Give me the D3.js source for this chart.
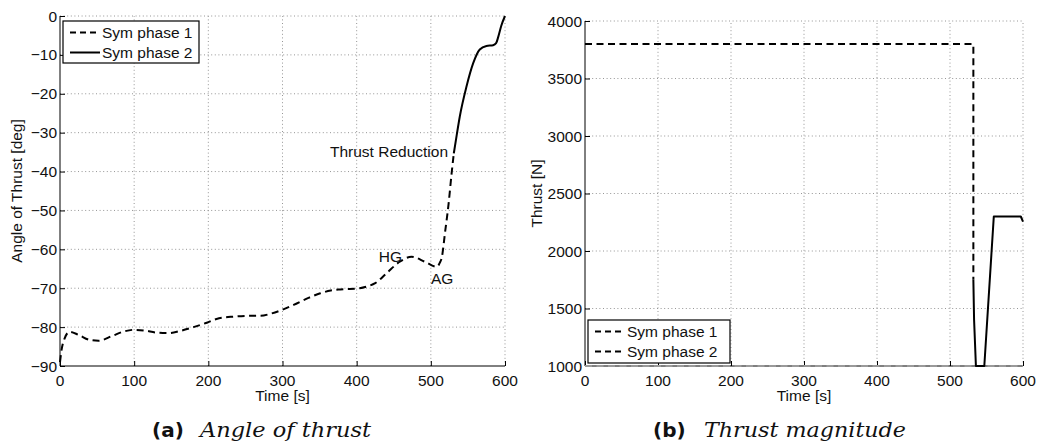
<!DOCTYPE html>
<html>
<head>
<meta charset="utf-8">
<script src="https://cdn.jsdelivr.net/npm/d3@7"></script>
<style>
  html, body { margin: 0; padding: 0; background: #fff; }
  svg { display: block; }
  text { font-family: "Liberation Sans", Arial, Helvetica, sans-serif; fill: #111; }
</style>
</head>
<body>
<svg id="fig" width="1042" height="448"></svg>
<script>
// ---- data ----------------------------------------------------------------
const timeTicks = [0, 100, 200, 300, 400, 500, 600];
const angleTicks = [-90, -80, -70, -60, -50, -40, -30, -20, -10, 0];
const thrustTicks = [1000, 1500, 2000, 2500, 3000, 3500, 4000];

// angle of thrust [deg] vs time [s]
const anglePhase1 = [
  [0, -89], [2, -86], [6, -83], [13, -81.2], [25, -82], [40, -83.3], [52, -83.5],
  [70, -82.3], [85, -81.2], [99, -80.7], [115, -80.9], [130, -81.4], [148, -81.5],
  [162, -81], [180, -80], [199, -78.8], [211, -77.9], [234, -77.3], [255, -77.1],
  [270, -77.1], [285, -76.5], [299, -75.6], [315, -74.3], [335, -72.5], [351, -71.3],
  [365, -70.6], [378, -70.3], [404, -70], [415, -69.5], [425, -68.7], [440, -66.2],
  [458, -63.2], [474, -61.9], [492, -63.2], [508, -64.5], [512, -63.5], [515, -61.9],
  [519, -55.9], [524, -48.2], [528, -40.5], [531, -35.3]
];
const anglePhase2 = [
  [531, -35.3], [535, -30.5], [539, -25.9], [548, -18.2], [557, -12.2], [566, -8.6],
  [575, -7.7], [584, -7.5], [588, -7], [591, -5.3], [595, -2.5], [600, 0]
];

// thrust magnitude [N] vs time [s]
const thrustPhase1 = [[0, 3800], [532, 3800], [532, 1750]];
const thrustPhase2 = [
  [532, 1750], [533, 1400], [535.5, 1000], [547, 1000], [560, 2300], [597, 2300], [600, 2255]
];
const thrustFloor = [[0, 1000], [600, 1000]];

const seriesNames = ["Sym phase 1", "Sym phase 2"];

// ---- drawing helpers -----------------------------------------------------
const svg = d3.select("#fig");
const FS = 15.5;

function panel(cfg) {
  const g = svg.append("g");
  const x = d3.scaleLinear().domain([0, 600]).range(cfg.xr);
  const y = d3.scaleLinear().domain(cfg.yd).range(cfg.yr);

  // dotted grid
  const grid = g.append("g").attr("stroke", "#8a8a8a").attr("stroke-width", 0.9)
    .attr("stroke-dasharray", "1,2.6");
  grid.selectAll(".gx").data(timeTicks.filter(t => t > 0)).join("line")
    .attr("x1", d => x(d)).attr("x2", d => x(d))
    .attr("y1", cfg.yr[0]).attr("y2", cfg.yr[1]);
  grid.selectAll(".gy").data(cfg.yticks.filter(t => t > cfg.yd[0])).join("line")
    .attr("y1", d => y(d)).attr("y2", d => y(d))
    .attr("x1", cfg.xr[0]).attr("x2", cfg.xr[1]);

  // axes (ticks pointing inward)
  const ax = g.append("g").attr("transform", `translate(0,${cfg.yr[0]})`)
    .call(d3.axisTop(x).tickValues(timeTicks).tickSize(5).tickFormat(""));
  ax.select(".domain").attr("d", `M${cfg.xr[0]},0H${cfg.xr[1]}`).attr("stroke", "#000");
  ax.selectAll(".tick line").attr("stroke", "#000");
  g.selectAll(".xl").data(timeTicks).join("text")
    .attr("x", d => x(d)).attr("y", cfg.yr[0] + 20)
    .attr("text-anchor", "middle").attr("font-size", FS).text(d => d);

  const ay = g.append("g").attr("transform", `translate(${cfg.xr[0]},0)`)
    .call(d3.axisRight(y).tickValues(cfg.yticks).tickSize(5).tickFormat(""));
  ay.select(".domain").attr("d", `M0,${cfg.yr[0]}V${cfg.yr[1]}`).attr("stroke", "#000");
  ay.selectAll(".tick line").attr("stroke", "#000");
  g.selectAll(".yl").data(cfg.yticks).join("text")
    .attr("x", cfg.xr[0] - 3).attr("y", d => y(d) + 5.5)
    .attr("text-anchor", "end").attr("font-size", FS)
    .text(d => d < 0 ? "\u2212" + Math.abs(d) : d);

  // axis titles
  g.append("text").attr("x", (cfg.xr[0] + cfg.xr[1]) / 2).attr("y", 401)
    .attr("text-anchor", "middle").attr("font-size", FS).text("Time [s]");
  g.append("text")
    .attr("transform", `translate(${cfg.ytx},${(cfg.yr[0] + cfg.yr[1]) / 2}) rotate(-90)`)
    .attr("text-anchor", "middle").attr("font-size", FS).text(cfg.ytitle);

  return { g, x, y };
}

function drawLine(p, data, dashed, curve, color, width) {
  const line = d3.line().x(d => p.x(d[0])).y(d => p.y(d[1])).curve(curve || d3.curveLinear);
  p.g.append("path").datum(data).attr("d", line)
    .attr("fill", "none").attr("stroke", color || "#000")
    .attr("stroke-width", width || 2)
    .attr("stroke-dasharray", dashed ? "7,4.5" : null)
    .attr("stroke-linejoin", "round");
}

function legend(p, box, dashes) {
  const lg = p.g.append("g");
  lg.append("rect").attr("x", box[0]).attr("y", box[1])
    .attr("width", box[2]).attr("height", box[3])
    .attr("fill", "#fff").attr("stroke", "#000").attr("stroke-width", 1.2);
  seriesNames.forEach((name, i) => {
    const cy = box[1] + 11.5 + i * 20;
    lg.append("line").attr("x1", box[0] + 7).attr("x2", box[0] + 37)
      .attr("y1", cy).attr("y2", cy).attr("stroke", "#000").attr("stroke-width", 2)
      .attr("stroke-dasharray", dashes[i] ? "6,4" : null);
    lg.append("text").attr("x", box[0] + 39).attr("y", cy + 5.5)
      .attr("font-size", FS).text(name);
  });
}

// ---- (a) angle of thrust -------------------------------------------------
const pa = panel({
  xr: [60, 505], yd: [-90, 0], yr: [366, 16], yticks: angleTicks,
  ytitle: "Angle of Thrust [deg]", ytx: 22
});
drawLine(pa, anglePhase1, true, d3.curveMonotoneX);
drawLine(pa, anglePhase2, false, d3.curveMonotoneX);
legend(pa, [63, 21, 136, 42], [true, false]);

pa.g.append("text").attr("x", 448).attr("y", 157).attr("text-anchor", "end")
  .attr("font-size", FS).text("Thrust Reduction");
pa.g.append("text").attr("x", 402).attr("y", 261.5).attr("text-anchor", "end")
  .attr("font-size", FS).text("HG");
pa.g.append("text").attr("x", 431).attr("y", 284).attr("text-anchor", "start")
  .attr("font-size", FS).text("AG");

// ---- (b) thrust magnitude ------------------------------------------------
const pb = panel({
  xr: [585, 1023], yd: [1000, 4000], yr: [366, 21], yticks: thrustTicks,
  ytitle: "Thrust [N]", ytx: 542
});
drawLine(pb, thrustFloor, true, null, "#9a9a9a", 2);
drawLine(pb, thrustPhase1, true);
drawLine(pb, thrustPhase2, false);
legend(pb, [588, 320, 142, 43], [true, true]);

// ---- captions ------------------------------------------------------------
function caption(xl, xt, tw, label, title) {
  svg.append("text").attr("x", xl).attr("y", 437)
    .style("font-family", "'DejaVu Sans', sans-serif").style("font-weight", "bold")
    .attr("font-size", 20).text(label);
  svg.append("text").attr("x", xt).attr("y", 437)
    .style("font-family", "'DejaVu Serif', 'Liberation Serif', serif").style("font-style", "italic")
    .attr("font-size", 20).attr("textLength", tw).attr("lengthAdjust", "spacingAndGlyphs")
    .text(title);
}
caption(152, 200, 171, "(a)", "Angle of thrust");
caption(653, 704, 202, "(b)", "Thrust magnitude");
</script>
</body>
</html>
